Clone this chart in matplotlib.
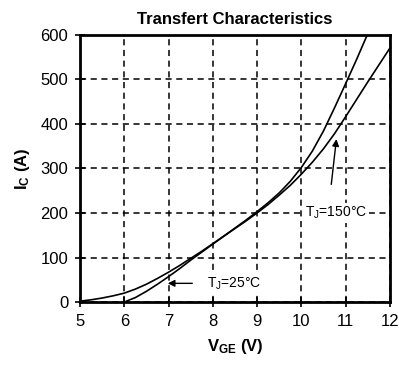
import matplotlib
matplotlib.use("Agg")
import matplotlib.pyplot as plt

plt.rcParams["font.family"] = ["Liberation Sans", "DejaVu Sans"]
plt.rcParams["mathtext.fontset"] = "custom"
plt.rcParams["mathtext.rm"] = "Liberation Sans"
plt.rcParams["mathtext.bf"] = "Liberation Sans:bold"

# Tj = 25 C curve
vge_25 = [6.0, 6.25, 6.5, 6.75, 7.0, 7.25, 7.5, 7.75, 8.0, 8.25, 8.5, 8.75, 9.0,
          9.25, 9.5, 9.75, 10.0, 10.25, 10.5, 10.75, 11.0, 11.25, 11.49]
ic_25 = [0, 10, 24, 40, 57, 75, 94, 112, 130, 148, 166, 184, 203,
         223, 245, 271, 302, 339, 384, 436, 490, 545, 600]

# Tj = 150 C curve
vge_150 = [5.0, 5.25, 5.5, 5.75, 6.0, 6.25, 6.5, 6.75, 7.0, 7.25, 7.5, 7.75, 8.0,
           8.25, 8.5, 8.75, 9.0, 9.25, 9.5, 9.75, 10.0, 10.25, 10.5, 10.75, 11.0,
           11.25, 11.5, 11.75, 12.0]
ic_150 = [2, 5, 9, 14, 20, 29, 40, 53, 67, 82, 98, 114, 131,
          148, 165, 182, 200, 219, 240, 262, 287, 314, 344, 378, 416,
          455, 494, 532, 570]

xticks = [5, 6, 7, 8, 9, 10, 11, 12]
yticks = [0, 100, 200, 300, 400, 500, 600]

fig = plt.figure(figsize=(3.99, 3.67), dpi=100)
ax = fig.add_axes([0.2005, 0.177, 0.7765, 0.728])

ax.plot(vge_25, ic_25, color="black", lw=1.2)
ax.plot(vge_150, ic_150, color="black", lw=1.2)

ax.set_xlim(5, 12)
ax.set_ylim(0, 600)
ax.set_xticks(xticks)
ax.set_yticks(yticks)
ax.grid(True, color="black", linestyle=(0, (4, 3)), linewidth=1.1)
for s in ax.spines.values():
    s.set_linewidth(2)
ax.tick_params(direction="inout", length=7, width=1.2, labelsize=12, pad=5)

ax.annotate("", xy=(6.92, 42), xytext=(7.6, 42),
            arrowprops=dict(arrowstyle="-|>", color="black", lw=1, mutation_scale=10))
ax.text(7.87, 42, r"T$_\mathrm{J}$=25°C", fontsize=10, va="center", ha="left",
        bbox=dict(facecolor="white", edgecolor="none", pad=1))

ax.annotate("", xy=(10.8, 372), xytext=(10.67, 258),
            arrowprops=dict(arrowstyle="-|>", color="black", lw=1, mutation_scale=10))
ax.text(10.79, 200, r"T$_\mathrm{J}$=150°C", fontsize=10, va="center", ha="center",
        bbox=dict(facecolor="white", edgecolor="none", pad=1))

ax.set_title("Transfert Characteristics", fontsize=12, fontweight="bold", pad=8)
ax.set_xlabel(r"$\mathbf{V_{GE}}$ (V)", fontsize=12, fontweight="bold", labelpad=6)
ax.set_ylabel(r"$\mathbf{I_{C}}$ (A)", fontsize=12, fontweight="bold", labelpad=6)

fig.savefig("out.png", dpi=100)
